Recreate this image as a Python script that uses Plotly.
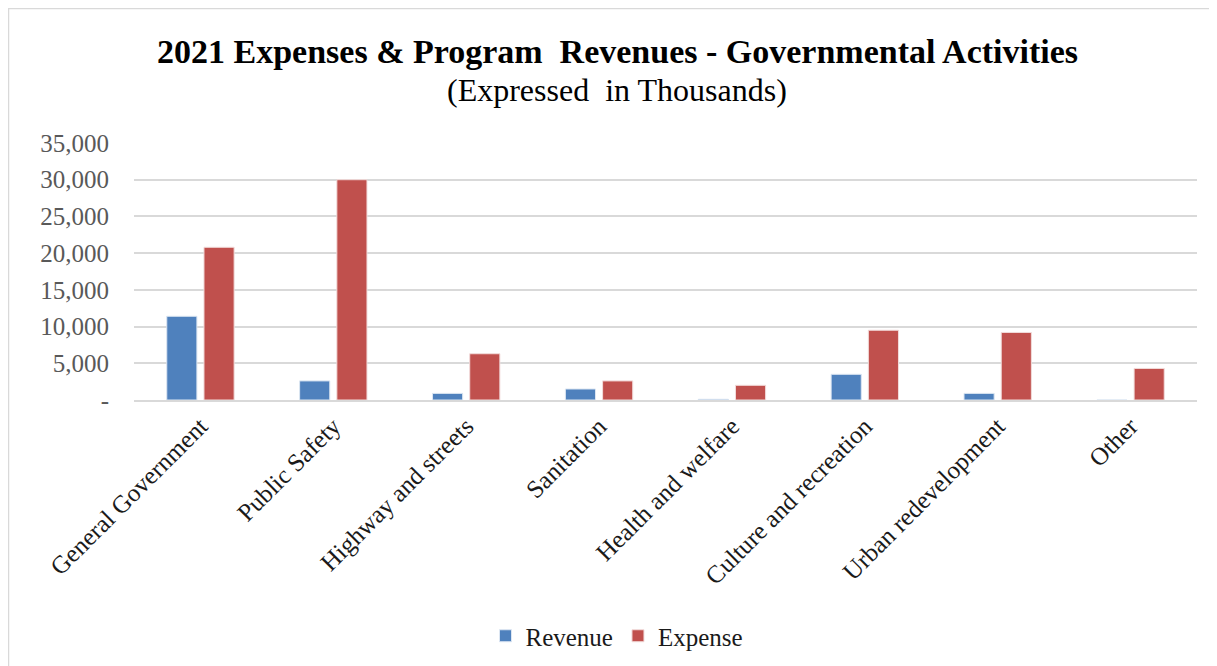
import plotly.graph_objects as go

categories = ["General Government", "Public Safety", "Highway and streets", "Sanitation",
              "Health and welfare", "Culture and recreation", "Urban redevelopment", "Other"]
revenue = [11400, 2600, 900, 1500, 100, 3500, 900, 0]
expense = [20800, 30000, 6300, 2600, 2000, 9500, 9200, 4300]
tick_vals = [0, 5000, 10000, 15000, 20000, 25000, 30000, 35000]
tick_text = ["-", "5,000", "10,000", "15,000", "20,000", "25,000", "30,000", "35,000"]

FONT = "Liberation Serif"
W, H = 1217, 666
OFF = 8  # page body margin
L, R, T, B = 126, 28, 135, 274
pw, ph = W - L - R, H - T - B

def px(x):
    return (x - OFF - L) / pw

def py(y):
    return (H - B - (y - OFF)) / ph

fig = go.Figure()
fig.add_trace(go.Bar(name="Revenue", x=categories, y=revenue,
                     marker=dict(color="#4F81BD", line=dict(color="#DCE6F2", width=1))))
fig.add_trace(go.Bar(name="Expense", x=categories, y=expense,
                     marker=dict(color="#C0504D", line=dict(color="#F2DCDB", width=1))))

fig.update_layout(
    width=W, height=H,
    margin=dict(l=L, r=R, t=T, b=B),
    paper_bgcolor="white", plot_bgcolor="white",
    barmode="group", bargap=0.44, bargroupgap=0.19,
    font=dict(family=FONT, color="#595959", size=25),
    showlegend=True,
    legend=dict(orientation="h", x=px(617), xanchor="center",
                y=py(636), yanchor="middle",
                font=dict(family=FONT, size=25, color="#1a1a1a"),
                itemwidth=30, traceorder="normal"),
    annotations=[
        dict(text="<b>2021 Expenses &amp; Program  Revenues - Governmental Activities</b>",
             x=px(617), y=py(52), xref="paper", yref="paper", showarrow=False,
             font=dict(family=FONT, size=34, color="black"), xanchor="center", yanchor="middle"),
        dict(text="(Expressed  in Thousands)",
             x=px(617), y=py(90), xref="paper", yref="paper", showarrow=False,
             font=dict(family=FONT, size=32, color="black"), xanchor="center", yanchor="middle"),
    ],
    shapes=[
        dict(type="rect", xref="paper", yref="paper",
             x0=px(8.5), x1=px(1240), y0=py(700), y1=py(8.5),
             line=dict(color="#D9D9D9", width=1.5), fillcolor="rgba(0,0,0,0)", layer="below"),
    ],
)
fig.update_xaxes(tickangle=-45, showgrid=False, showline=True, linecolor="#D9D9D9", linewidth=1.5,
                 ticks="", tickfont=dict(family=FONT, size=25, color="#1a1a1a"))
fig.update_yaxes(range=[0, 35000], tickvals=tick_vals, ticktext=tick_text,
                 showgrid=True, gridcolor="#D9D9D9", gridwidth=1.5, zeroline=False,
                 showline=False, ticks="", ticklabelstandoff=24,
                 tickfont=dict(family=FONT, size=25, color="#595959"))

fig.write_html("out.html")
